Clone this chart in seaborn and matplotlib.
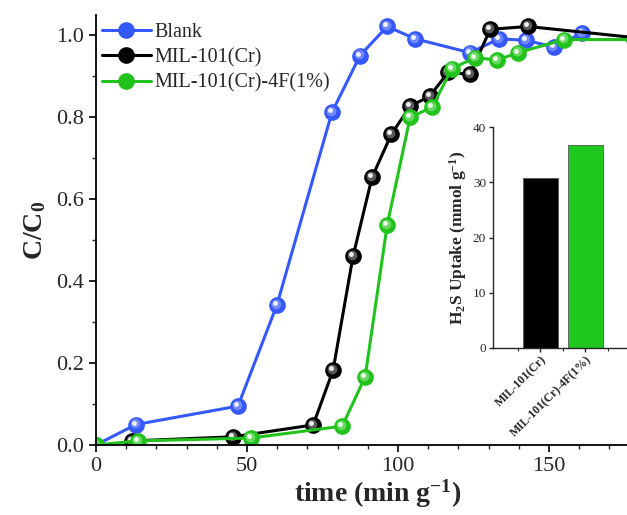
import numpy as np
import pandas as pd
import matplotlib
matplotlib.use("Agg")
import matplotlib.pyplot as plt
import matplotlib.transforms as mtransforms
from matplotlib.ticker import MultipleLocator, FixedLocator
import seaborn as sns

# ---- data ----
blank_t = [0, 13.2, 47.0, 59.9, 78.1, 87.4, 96.4, 105.6, 123.8, 133.5, 142.5, 151.5, 160.9]
blank_c = [0.0, 0.05, 0.095, 0.342, 0.812, 0.951, 1.022, 0.992, 0.958, 0.992, 0.988, 0.972, 1.005]

mil_t = [12.0, 45.4, 71.9, 78.5, 85.1, 91.4, 97.8, 104.0, 110.5, 116.6, 123.8, 130.5, 143.0, 178.0]
mil_c = [0.01, 0.02, 0.049, 0.183, 0.461, 0.654, 0.759, 0.827, 0.852, 0.91, 0.905, 1.015, 1.022, 0.995]

f_t = [0, 13.9, 51.3, 81.5, 89.1, 96.4, 104.0, 111.3, 117.8, 125.5, 132.8, 139.7, 155.0, 178.0]
f_c = [0.0, 0.01, 0.017, 0.046, 0.166, 0.537, 0.80, 0.825, 0.919, 0.946, 0.94, 0.958, 0.99, 0.99]

series_names = ["Blank", "MIL-101(Cr)", "MIL-101(Cr)-4F(1%)"]
series_colors = ["#3558fa", "#000000", "#22c21c"]
series_mid = ["#7f95ff", "#707070", "#7be072"]

bar_labels = ["MIL-101(Cr)", "MIL-101(Cr)-4F(1%)"]
bar_values = [30.7, 36.8]
bar_colors = ["#000000", "#1ec81e"]

# ---- style ----
sns.set_style("ticks")
plt.rcParams["font.family"] = ["Liberation Serif", "DejaVu Serif"]
plt.rcParams["mathtext.default"] = "regular"

fig = plt.figure(figsize=(6.27, 5.15), dpi=100)
ax = fig.add_axes([96 / 627, 70 / 515, 531 / 627, 430 / 515])

data = [(blank_t, blank_c), (mil_t, mil_c), (f_t, f_c)]
for (t, c), name, col, mid in zip(data, series_names, series_colors, series_mid):
    df = pd.DataFrame({"t": t, "c": c})
    sns.lineplot(data=df, x="t", y="c", ax=ax, sort=False, color=col, lw=2.2,
                 marker="o", markersize=12, markeredgewidth=0, label=name)
    # sphere highlight (two layers)
    off1 = mtransforms.offset_copy(ax.transData, fig=fig, x=-1.2, y=1.2, units="dots")
    ax.plot(t, c, ls="none", marker="o", markersize=7, color=mid, alpha=0.8,
            markeredgewidth=0, transform=off1)
    off2 = mtransforms.offset_copy(ax.transData, fig=fig, x=-2.0, y=2.0, units="dots")
    ax.plot(t, c, ls="none", marker="o", markersize=3.5, color="white", alpha=0.9,
            markeredgewidth=0, transform=off2)

ax.set_xlim(0, 175.8)
ax.set_ylim(0, 1.05)
ax.xaxis.set_major_locator(MultipleLocator(50))
ax.xaxis.set_minor_locator(MultipleLocator(10))
ax.yaxis.set_major_locator(FixedLocator([0, 0.2, 0.4, 0.6, 0.8, 1.0]))
ax.yaxis.set_minor_locator(FixedLocator([0.1, 0.3, 0.5, 0.7, 0.9]))
ax.set_yticklabels(["0.0", "0.2", "0.4", "0.6", "0.8", "1.0"])
ax.tick_params(axis="both", which="major", direction="out", length=5, width=1.2,
               labelsize=16, color="black")
ax.tick_params(axis="both", which="minor", direction="out", length=3, width=1.0)
for s in ["top", "right"]:
    ax.spines[s].set_visible(False)
for s in ["left", "bottom"]:
    ax.spines[s].set_linewidth(1.3)
    ax.spines[s].set_color("black")

ax.set_xlabel("time (min g$^{-1}$)", fontsize=20, fontweight="bold")
ax.set_ylabel("C/C$_0$", fontsize=20, fontweight="bold")
ax.xaxis.set_label_coords(0.531, -0.076)
ax.yaxis.set_label_coords(-0.09, 0.5)

leg = ax.legend(loc="upper left", frameon=False, fontsize=14.5, handlelength=2.4,
                handletextpad=0.2, labelspacing=0.3, borderaxespad=0.0,
                borderpad=0.1, bbox_to_anchor=(0.008, 0.986))

# ---- inset ----
axi = fig.add_axes([493 / 627, 167 / 515, 134 / 627, 221 / 515])
bdf = pd.DataFrame({"sample": bar_labels, "uptake": bar_values})
sns.barplot(data=bdf, x="sample", y="uptake", hue="sample", palette=bar_colors,
            ax=axi, width=0.78, legend=False, saturation=1,
            edgecolor="#555555", linewidth=0.6)
axi.set_xlim(-1.05, 1.93)
axi.set_ylim(0, 40)
axi.yaxis.set_major_locator(MultipleLocator(10))
axi.set_xticks([0, 1])
axi.set_xticklabels(bar_labels, rotation=45, ha="right", rotation_mode="anchor",
                    fontsize=8.5, fontweight="bold")
axi.xaxis.set_minor_locator(FixedLocator([-0.5, 0.5, 1.5]))
axi.tick_params(axis="both", which="major", direction="out", length=3, width=1.0,
                labelsize=9.5, pad=2)
axi.tick_params(axis="x", which="major", labelsize=8.5, pad=1)
axi.tick_params(axis="x", which="minor", direction="out", length=2.5, width=0.8)
for s in ["top", "right"]:
    axi.spines[s].set_visible(False)
for s in ["left", "bottom"]:
    axi.spines[s].set_linewidth(1.0)
axi.set_xlabel("")
axi.set_ylabel("H$_2$S Uptake (mmol g$^{-1}$)", fontsize=12.5, fontweight="bold",
               labelpad=3)

fig.savefig("out.png", dpi=100)
